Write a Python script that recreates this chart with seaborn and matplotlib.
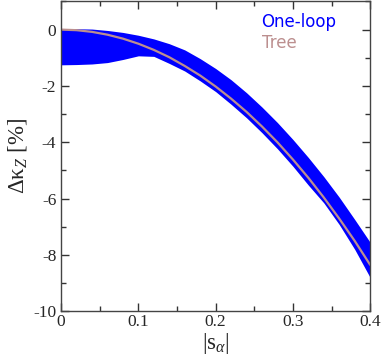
import matplotlib
matplotlib.use("Agg")
import matplotlib.pyplot as plt
import seaborn as sns
import pandas as pd
from matplotlib.ticker import MultipleLocator
from matplotlib.lines import Line2D

s_alpha = [0.00, 0.02, 0.04, 0.06, 0.08, 0.10, 0.12, 0.14, 0.16, 0.18, 0.20,
           0.22, 0.24, 0.26, 0.28, 0.30, 0.32, 0.34, 0.36, 0.38, 0.40]
tree = [0.00, -0.02, -0.08, -0.18, -0.32, -0.50, -0.72, -0.98, -1.29, -1.63, -2.02,
        -2.45, -2.92, -3.44, -4.00, -4.61, -5.26, -5.96, -6.71, -7.50, -8.35]
oneloop_upper = [0.03, 0.03, 0.02, -0.03, -0.10, -0.20, -0.33, -0.50, -0.72, -1.03, -1.38,
                 -1.78, -2.24, -2.75, -3.30, -3.90, -4.54, -5.22, -5.95, -6.74, -7.55]
oneloop_lower = [-1.25, -1.24, -1.22, -1.17, -1.06, -0.93, -0.95, -1.20, -1.47, -1.82, -2.20,
                 -2.65, -3.13, -3.66, -4.23, -4.85, -5.52, -6.15, -6.92, -7.80, -8.80]
x_ticks = [0, 0.1, 0.2, 0.3, 0.4]
x_tick_labels = ["0", "0.1", "0.2", "0.3", "0.4"]
y_ticks = [0, -2, -4, -6, -8, -10]
y_tick_labels = ["0", "-2", "-4", "-6", "-8", "-10"]
series_labels = ["One-loop", "Tree"]
series_colors = ["#0000ff", "#bc8f8f"]

sns.set_style("ticks")
plt.rcParams['font.family'] = ['Liberation Serif', 'DejaVu Serif']
plt.rcParams['mathtext.fontset'] = 'custom'
plt.rcParams['mathtext.rm'] = 'Liberation Serif'
plt.rcParams['mathtext.it'] = 'Liberation Serif:italic'

fig = plt.figure(figsize=(3.82, 3.62), dpi=100)
ax = fig.add_axes([0.160, 0.140, 0.809, 0.856])

df = pd.DataFrame({"s": s_alpha, "tree": tree, "up": oneloop_upper, "lo": oneloop_lower})
ax.fill_between(df["s"], df["lo"], df["up"], color=series_colors[0], linewidth=0)
sns.lineplot(data=df, x="s", y="tree", ax=ax, color=series_colors[1], linewidth=1.6)

ax.set_xlim(0, 0.4)
ax.set_ylim(-10, 1)
ax.set_xticks(x_ticks)
ax.set_xticklabels(x_tick_labels)
ax.set_yticks(y_ticks)
ax.set_yticklabels(y_tick_labels)
ax.xaxis.set_minor_locator(MultipleLocator(0.05))
ax.yaxis.set_minor_locator(MultipleLocator(1))
ax.tick_params(which="both", direction="in", top=True, right=True, labelsize=12.5,
               color="#333333", width=1)
ax.tick_params(axis="x", which="both", pad=2)
ax.tick_params(which="major", length=6)
ax.tick_params(which="minor", length=3.5)
for sp in ax.spines.values():
    sp.set_color("#444444")
    sp.set_linewidth(1)

ax.set_xlabel(r"$|\mathrm{s}_{\alpha}|$", fontsize=16.5, labelpad=1)
ax.set_ylabel(r"$\Delta\mathrm{\kappa}_{Z}$ [%]", fontsize=16.5, labelpad=3)

handles = [Line2D([], [], color="none"), Line2D([], [], color="none")]
leg = ax.legend(handles, series_labels, loc="upper right", bbox_to_anchor=(0.94, 1.01),
                frameon=False, handlelength=0, handletextpad=0, labelspacing=0.15,
                prop={"family": "DejaVu Sans", "size": 12},
                labelcolor=series_colors)

fig.savefig("out.png", dpi=100)
